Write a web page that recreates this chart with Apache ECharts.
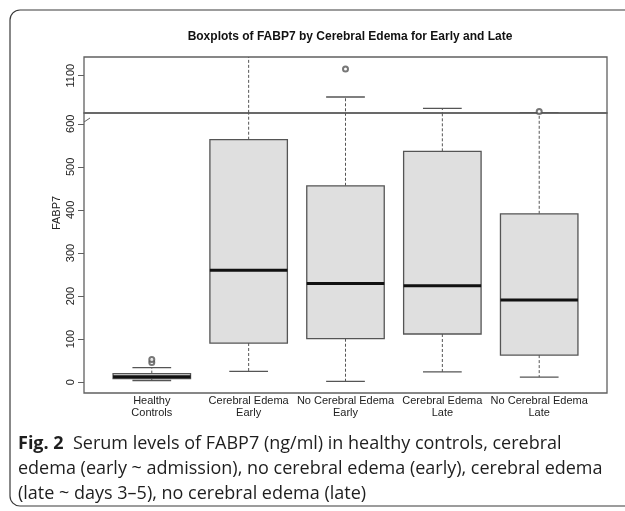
<!DOCTYPE html>
<html><head><meta charset="utf-8">
<script src="https://cdn.jsdelivr.net/npm/echarts@6/dist/echarts.min.js"></script>
<style>html,body{margin:0;padding:0;background:#fff}#c{width:625px;height:511px}</style>
</head><body><div id="c"></div>
<script>
// ---- data ----
const categories = ['Healthy\nControls', 'Cerebral Edema\nEarly', 'No Cerebral Edema\nEarly', 'Cerebral Edema\nLate', 'No Cerebral Edema\nLate'];
const whiskerLow  = [4, 25, 2, 24, 12];
const q1          = [8.5, 91, 101, 112, 63];
const median      = [13, 260, 229, 224, 191];
const q3          = [20, 563, 456, 536, 391];
const whiskerHigh = [34, 1400, 829, 684, 627];
const outlierCat  = [1, 1, 3, 5];
const outlierVal  = [46, 53, 1185, 645];
const lowerTicks  = [0, 100, 200, 300, 400, 500, 600];
const upperTicks  = [1100];

const boxData = categories.map((c, i) => [i + 1, whiskerLow[i], q1[i], median[i], q3[i], whiskerHigh[i]]);
const outlierData = outlierCat.map((c, i) => [c, outlierVal[i]]);
const catIndex = categories.map((c, i) => i + 1);

const GRAY = '#606060';

function renderBox(params, api) {
  const x = api.value(0);
  const lo = api.value(1), a = api.value(2), m = api.value(3), b = api.value(4), hi = api.value(5);
  const w = api.size([0.8, 0])[0];
  const cx = api.coord([x, m])[0];
  const yLo = api.coord([x, lo])[1], yA = api.coord([x, a])[1], yM = api.coord([x, m])[1],
        yB = api.coord([x, b])[1], yHi = api.coord([x, hi])[1];
  const dash = { stroke: '#555', lineWidth: 1, lineDash: [3, 2] };
  const solid = { stroke: '#555', lineWidth: 1.3 };
  return {
    type: 'group', children: [
      { type: 'line', shape: { x1: cx, y1: yB, x2: cx, y2: yHi }, style: dash },
      { type: 'line', shape: { x1: cx, y1: yA, x2: cx, y2: yLo }, style: dash },
      { type: 'line', shape: { x1: cx - w / 4, y1: yHi, x2: cx + w / 4, y2: yHi }, style: solid },
      { type: 'line', shape: { x1: cx - w / 4, y1: yLo, x2: cx + w / 4, y2: yLo }, style: solid },
      { type: 'rect', shape: { x: cx - w / 2, y: yB, width: w, height: yA - yB }, style: { fill: '#dfdfdf', stroke: '#555', lineWidth: 1.3 } },
      { type: 'line', shape: { x1: cx - w / 2, y1: yM, x2: cx + w / 2, y2: yM }, style: { stroke: '#111', lineWidth: 3 } }
    ]
  };
}

const chart = echarts.init(document.getElementById('c'), null, { renderer: 'canvas' });
const labelFont = { fontFamily: 'Liberation Sans, Arial, sans-serif', fontSize: 11, color: '#222' };

const xAxisBase = { type: 'value', min: 0.3, max: 5.7, splitLine: { show: false }, axisLine: { show: false }, axisTick: { show: false } };

chart.setOption({
  animation: false,
  backgroundColor: '#fff',
  title: [
    { text: 'Boxplots of FABP7 by Cerebral Edema for Early and Late', left: 345, top: 26, textAlign: 'center',
      textStyle: { fontFamily: 'Liberation Sans, Arial, sans-serif', fontWeight: 'bold', fontSize: 12, color: '#111' } },
    { text: '{b|Fig. 2}  Serum levels of FABP7 (ng/ml) in healthy controls, cerebral\nedema (early ~ admission), no cerebral edema (early), cerebral edema\n(late ~ days 3\u20135), no cerebral edema (late)',
      left: 13, top: 426,
      textStyle: { fontFamily: 'Open Sans', fontSize: 18, lineHeight: 25, fontWeight: 'normal', color: '#1e1e1e',
        rich: { b: { fontFamily: 'Open Sans', fontWeight: 'bold', fontSize: 18, lineHeight: 25, color: '#1e1e1e' } } } }
  ],
  grid: [
    { left: 84, right: 18, top: 57, height: 56, show: true, borderColor: GRAY, borderWidth: 1.3, backgroundColor: 'transparent' },
    { left: 84, right: 18, top: 113, height: 280, show: true, borderColor: GRAY, borderWidth: 1.3, backgroundColor: 'transparent' }
  ],
  xAxis: [
    Object.assign({ gridIndex: 0, axisLabel: { show: false } }, xAxisBase),
    Object.assign({ gridIndex: 1, axisLabel: Object.assign({ customValues: catIndex, margin: 2, lineHeight: 12,
      formatter: v => categories[Math.round(v) - 1] || '' }, labelFont) }, xAxisBase)
  ],
  yAxis: [
    { type: 'value', gridIndex: 0, min: 625, max: 1338, splitLine: { show: false }, axisLine: { show: false },
      axisTick: { show: true, length: 6, customValues: upperTicks, lineStyle: { color: GRAY, width: 1 } },
      axisLabel: Object.assign({ rotate: 90, margin: 8, customValues: upperTicks, formatter: v => String(v) }, labelFont) },
    { type: 'value', gridIndex: 1, min: -25, max: 625, splitLine: { show: false }, axisLine: { show: false },
      axisTick: { show: true, length: 6, customValues: lowerTicks, lineStyle: { color: GRAY, width: 1 } },
      axisLabel: Object.assign({ rotate: 90, margin: 8, customValues: lowerTicks, formatter: v => String(v) }, labelFont) }
  ],
  series: [
    { type: 'custom', xAxisIndex: 0, yAxisIndex: 0, clip: true, renderItem: renderBox, data: boxData, encode: { x: 0, y: 3 }, silent: true },
    { type: 'custom', xAxisIndex: 1, yAxisIndex: 1, clip: true, renderItem: renderBox, data: boxData, encode: { x: 0, y: 3 }, silent: true },
    { type: 'scatter', xAxisIndex: 0, yAxisIndex: 0, data: outlierData, symbol: 'emptyCircle', symbolSize: 5, itemStyle: { color: '#555', borderWidth: 1 }, silent: true },
    { type: 'scatter', xAxisIndex: 1, yAxisIndex: 1, data: outlierData, symbol: 'emptyCircle', symbolSize: 5, itemStyle: { color: '#555', borderWidth: 1 }, silent: true }
  ],
  graphic: [
    { type: 'rect', shape: { x: 10, y: 10, width: 660, height: 496, r: 10 }, style: { fill: 'none', stroke: '#3a3a3a', lineWidth: 1.2 }, silent: true, z: 0 },
    { type: 'line', shape: { x1: 84, y1: 122, x2: 90, y2: 118 }, style: { stroke: GRAY, lineWidth: 1 }, silent: true },
    { type: 'text', x: 57, y: 213, rotation: Math.PI / 2,
      style: { text: 'FABP7', align: 'center', verticalAlign: 'middle', fontFamily: 'Liberation Sans, Arial, sans-serif', fontSize: 11, fill: '#222' } }
  ]
});
</script>
</body></html>
